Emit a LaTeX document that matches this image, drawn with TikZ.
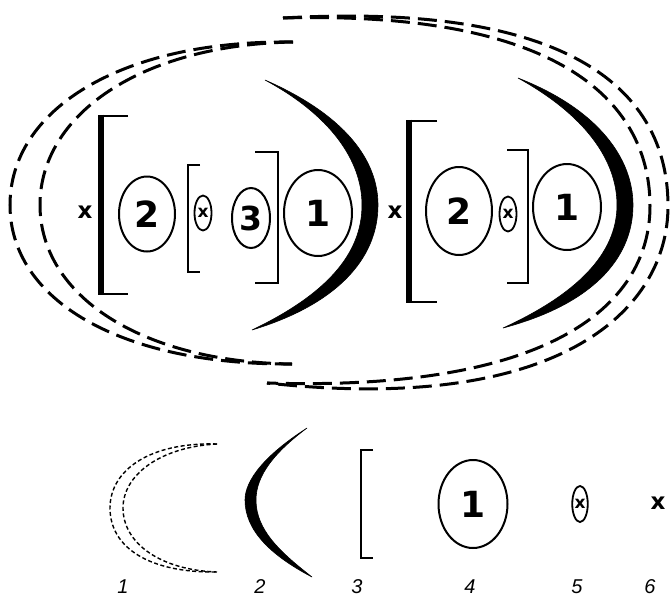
\documentclass[tikz,border=0pt]{standalone}
\usepackage{fontspec}
\setmainfont{Liberation Sans}
\newfontfamily\heavy{DejaVu Sans}
\usetikzlibrary{shapes.geometric}
\tikzset{
  dsh/.style={draw, line width=3pt, dash pattern=on 19pt off 8pt},
  dshsm/.style={draw, line width=1.4pt, dash pattern=on 4pt off 2.5pt},
  crsc/.style={fill=black, draw=black, line width=0.6pt},
  bra/.style={line width=2.2pt},
  bigbra/.style={line width=2.8pt},
  bar/.style={line width=6.5pt},
  ring/.style={ellipse, draw, line width=2pt, inner sep=0pt, font=\heavy\bfseries\fontsize{36}{36}\selectfont},
  oxr/.style={ellipse, draw, line width=1.8pt, inner sep=0pt, font=\heavy\bfseries\fontsize{17}{17}\selectfont, minimum width=17pt, minimum height=35pt},
  mrk/.style={inner sep=0pt, font=\heavy\bfseries\fontsize{23}{23}\selectfont},
  lbl/.style={inner sep=0pt, font=\fontsize{20}{20}\selectfont\itshape},
}
\begin{document}
\begin{tikzpicture}[x=1pt, y=-1pt]
  \useasboundingbox (0,0) rectangle (670,598);
  % dashed shells, left pair
  \draw[dsh] (293,42) .. controls (120,40) and (10,110) .. (10,205) .. controls (10,300) and (120,365) .. (292,364);
  \draw[dsh] (293,42) .. controls (140,45) and (40,115) .. (40,205) .. controls (40,295) and (140,362) .. (292,364);
  % dashed shells, right pair
  \draw[dsh] (283,18) .. controls (600,0) and (668,110) .. (668,206) .. controls (668,310) and (560,415) .. (267,383);
  \draw[dsh] (283,18) .. controls (580,10) and (650,115) .. (650,206) .. controls (650,300) and (560,392) .. (267,383);
  % crescents
  \fill[crsc] (265,80) .. controls (345,115) and (378,160) .. (378,205) .. controls (378,260) and (335,305) .. (252,330)
    .. controls (325,295) and (362,255) .. (362,205) .. controls (362,160) and (330,115) .. (265,80) -- cycle;
  \fill[crsc] (518,78) .. controls (600,110) and (633,160) .. (633,205) .. controls (633,260) and (590,305) .. (503,328)
    .. controls (575,295) and (617,255) .. (617,205) .. controls (617,160) and (585,115) .. (518,78) -- cycle;
  % big brackets
  \draw[bigbra] (128,116) -- (101,116) -- (101,294) -- (128,294);
  \draw[bar] (101,114.6) -- (101,295.4);
  \draw[bigbra] (437,121) -- (409,121) -- (409,302) -- (437,302);
  \draw[bar] (409,119.6) -- (409,303.4);
  % small brackets
  \draw[bra] (200,165) -- (188,165) -- (188,272) -- (200,272);
  \draw[bra] (255,152) -- (278,152) -- (278,283) -- (255,283);
  \draw[bra] (507,150) -- (528,150) -- (528,283) -- (507,283);
  % factors
  \node[mrk] (xA) at (85,212) {x};
  \node[ring, minimum width=56pt, minimum height=75pt] (twoA) at (147,214) {2};
  \node[oxr] (oxA) at (203,213) {x};
  \node[ring, minimum width=38pt, minimum height=60pt, font=\heavy\bfseries\fontsize{33}{33}\selectfont] (three) at (251,218) {3};
  \node[ring, minimum width=68pt, minimum height=86pt] (oneA) at (318,213) {1};
  \node[mrk] (xB) at (395,212) {x};
  \node[ring, minimum width=66pt, minimum height=88pt] (twoB) at (459,211) {2};
  \node[oxr] (oxB) at (508,214) {x};
  \node[ring, minimum width=68pt, minimum height=86pt] (oneB) at (567,207) {1};
  % legend
  \draw[dshsm] (217,444) .. controls (150,442) and (110,470) .. (110,508) .. controls (110,548) and (150,573) .. (217,572);
  \draw[dshsm] (217,444) .. controls (160,447) and (123,475) .. (123,508) .. controls (123,543) and (160,570) .. (217,572);
  \fill[crsc] (307,428) .. controls (265,455) and (245,480) .. (245,500) .. controls (245,530) and (270,555) .. (312,577)
    .. controls (280,552) and (256,530) .. (256,500) .. controls (256,475) and (275,452) .. (307,428) -- cycle;
  \draw[bra] (373,450) -- (361,450) -- (361,558) -- (373,558);
  \node[ring, minimum width=69pt, minimum height=88pt] (oneL) at (473,504) {1};
  \node[oxr, minimum width=15pt, minimum height=36pt] (oxL) at (580,504) {x};
  \node[mrk] (xL) at (658,503) {x};
  \foreach \n/\x in {1/123,2/260,3/357,4/470,5/577,6/650}
    \node[lbl] (lab\n) at (\x,587) {\n};
\end{tikzpicture}
\end{document}
